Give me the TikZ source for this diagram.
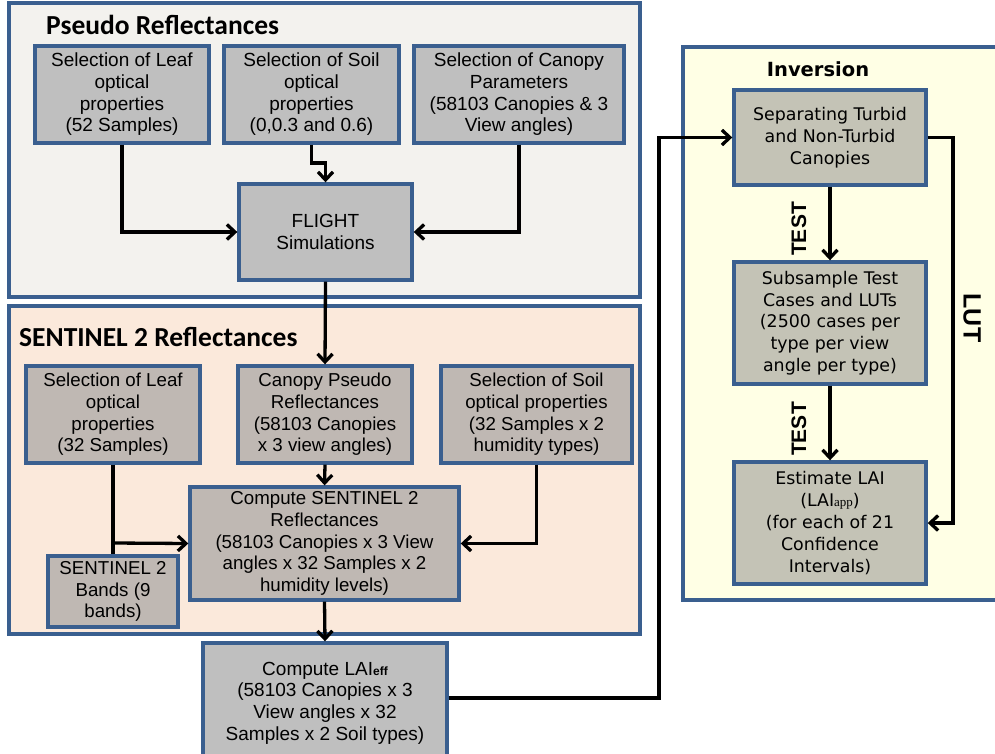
\documentclass[tikz,border=0pt]{standalone}
\usepackage{fontspec}
\setmainfont{Liberation Sans}
\newfontfamily\titlefont{Carlito}
\newfontfamily\verd{DejaVu Sans}
\newfontfamily\serifsub{Liberation Serif}
\usetikzlibrary{arrows.meta}
\definecolor{bordc}{HTML}{3A5F8F}
\definecolor{pfill}{HTML}{F3F2EE}
\definecolor{sfill}{HTML}{FBE9DB}
\definecolor{ifill}{HTML}{FFFFE5}
\definecolor{gbox}{HTML}{BFBFBF}
\definecolor{wbox}{HTML}{BFB8B3}
\definecolor{ibox}{HTML}{C4C3B6}
\tikzset{
  panel/.style={draw=bordc, line width=3.4pt},
  boxbase/.style={draw=bordc, line width=3.4pt, inner sep=0pt, align=center},
  abox/.style={boxbase, fill=gbox, font=\fontsize{19}{21.7}\selectfont},
  sbox/.style={boxbase, fill=wbox, font=\fontsize{18.7}{21.7}\selectfont},
  ivbox/.style={boxbase, fill=ibox, font=\verd\fontsize{17.4}{21.8}\selectfont},
  ptitle/.style={font=\titlefont\bfseries\fontsize{27.5}{30}\selectfont, inner sep=0pt},
  conn/.style={line width=3.3pt, black},
  arr/.style={conn, -{Straight Barb[length=8pt,width=15pt,line width=3.3pt]}},
  lbl/.style={font=\bfseries\fontsize{21}{23}\selectfont, inner sep=0pt}
}
\begin{document}
\begin{tikzpicture}[x=1pt,y=-1pt]
\useasboundingbox (0,0) rectangle (995,754);
\clip (0,0) rectangle (995,754);
\fill[white] (0,0) rectangle (995,754);
% panels
\draw[panel, fill=pfill] (9,3) rectangle (640,297);
\draw[panel, fill=sfill] (9,306) rectangle (640,634);
\draw[panel, fill=ifill] (683,47) rectangle (1010,600);
\node[ptitle, anchor=west] (t1) at (46,25) {Pseudo Reflectances};
\node[ptitle, anchor=west] (t2) at (19,337) {SENTINEL 2 Reflectances};
\node[font=\verd\bfseries\fontsize{19.5}{22}\selectfont, inner sep=0pt] (t3) at (818,69) {Inversion};
% pseudo reflectance boxes
\node[abox, minimum width=174pt, minimum height=97pt] (leaf1) at (122,94.5) {Selection of Leaf\\optical\\properties\\(52 Samples)};
\node[abox, minimum width=175pt, minimum height=97pt] (soil1) at (311.5,94.5) {Selection of Soil\\optical\\properties\\(0,0.3 and 0.6)};
\node[abox, minimum width=210pt, minimum height=97pt] (can1) at (519,94.5) {Selection of Canopy\\Parameters\\(58103 Canopies \& 3\\View angles)};
\node[abox, minimum width=173pt, minimum height=96pt] (flight) at (325.5,232) {FLIGHT\\Simulations};
% sentinel boxes
\node[sbox, minimum width=174pt, minimum height=97pt] (leaf2) at (113,414.5) {Selection of Leaf\\optical\\properties\\(32 Samples)};
\node[sbox, minimum width=174pt, minimum height=97pt] (cpr) at (325,414.5) {Canopy Pseudo\\Reflectances\\(58103 Canopies\\x 3 view angles)};
\node[sbox, minimum width=191pt, minimum height=97pt] (soil2) at (536.5,414.5) {Selection of Soil\\optical properties\\(32 Samples x 2\\humidity types)};
\node[sbox, minimum width=269pt, minimum height=113pt] (comp) at (324.5,543.5) {Compute SENTINEL 2\\Reflectances\\(58103 Canopies x 3 View\\angles x 32 Samples x 2\\humidity levels)};
\node[sbox, minimum width=130pt, minimum height=71pt] (bands) at (113,591.5) {SENTINEL 2\\Bands (9\\bands)};
% LAIeff
\node[abox, fill=gbox, minimum width=244pt, minimum height=120pt] (laieff) at (325,703) {Compute LAI{\fontsize{12}{12}\selectfont\bfseries eff}\\(58103 Canopies x 3\\View angles x 32\\Samples x 2 Soil types)};
% inversion boxes
\node[ivbox, minimum width=192pt, minimum height=95pt] (sep) at (830,137.5) {Separating Turbid\\and Non-Turbid\\Canopies};
\node[ivbox, minimum width=192pt, minimum height=122pt] (sub) at (830,323) {Subsample Test\\Cases and LUTs\\(2500 cases per\\type per view\\angle per type)};
\node[ivbox, minimum width=192pt, minimum height=122pt] (est) at (830,523) {Estimate LAI\\(LAI{\serifsub\fontsize{13}{13}\selectfont app})\\(for each of 21\\Confidence\\Intervals)};
% coordinates
\coordinate (j1) at (311.5,163);
\coordinate (b1) at (113,543);
\coordinate (q1) at (659,698);
\coordinate (q2) at (659,137.5);
\coordinate (l1) at (953,137.5);
\coordinate (l2) at (953,523);
% connectors pseudo
\draw[arr] (leaf1.south) |- (flight.west);
\draw[arr] (can1.south) |- (flight.east);
\draw[arr] (soil1.south) -- (j1) -| (flight.north);
\draw[arr] (flight.south) -- (cpr.north);
% sentinel
\draw[arr] (cpr.south) -- (comp.north);
\draw[conn] (leaf2.south) -- (bands.north);
\draw[arr] (b1) -- (comp.west);
\draw[arr] (soil2.south) |- (comp.east);
\draw[arr] (comp.south) -- (laieff.north);
% to inversion
\draw[arr] (laieff.east |- q1) -- (q1) -- (q2) -- (sep.west);
\draw[arr] (sep.south) -- (sub.north);
\draw[arr] (sub.south) -- (est.north);
\draw[arr] (sep.east) -- (l1) -- (l2) -- (est.east);
\node[lbl, rotate=90] (test1) at (799,229) {TEST};
\node[lbl, rotate=90] (test2) at (799,429) {TEST};
\node[lbl, rotate=-90, font=\bfseries\fontsize{25}{27}\selectfont] (lut) at (972,318) {LUT};
\end{tikzpicture}
\end{document}
